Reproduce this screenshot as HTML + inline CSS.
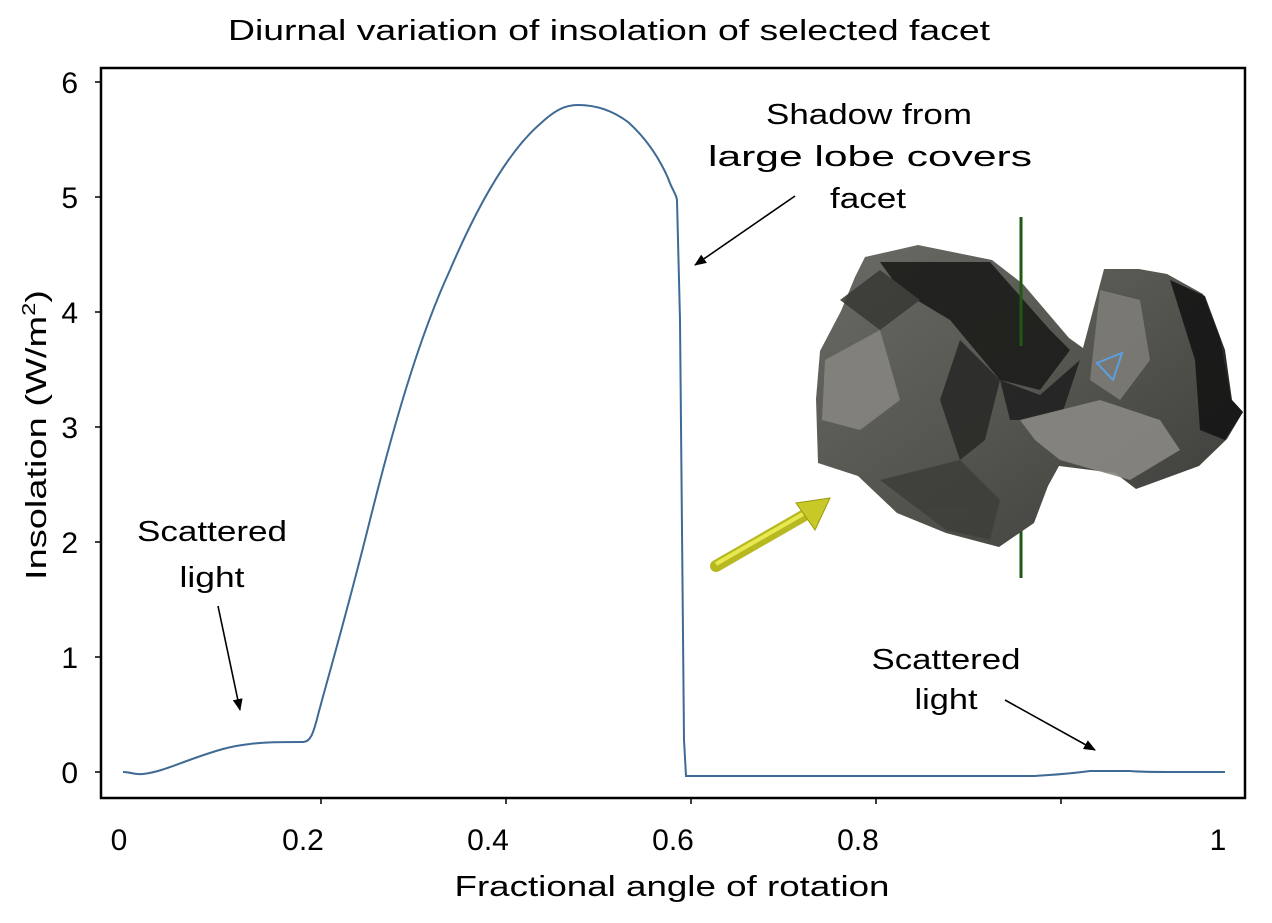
<!DOCTYPE html>
<html><head><meta charset="utf-8"><style>
html,body{margin:0;padding:0;background:#fff;}
svg{display:block;font-family:"Liberation Sans",sans-serif;}
</style></head><body>
<svg width="1272" height="923" viewBox="0 0 1272 923" xmlns="http://www.w3.org/2000/svg">
<defs>
<marker id="ah" markerWidth="12" markerHeight="12" refX="11" refY="6" orient="auto" markerUnits="userSpaceOnUse" viewBox="0 0 12 12"><path d="M0,1 L12,6 L0,11 z" fill="#000"/></marker>
<linearGradient id="cg" x1="0" y1="0" x2="1" y2="1">
<stop offset="0" stop-color="#6a6a66"/><stop offset="0.5" stop-color="#55554f"/><stop offset="1" stop-color="#3a3a38"/></linearGradient>
</defs>
<text x="609" y="40" font-size="29" text-anchor="middle" textLength="762" lengthAdjust="spacingAndGlyphs">Diurnal variation of insolation of selected facet</text>
<rect x="101" y="68" width="1144" height="730" fill="none" stroke="#000" stroke-width="2.5"/>
<g stroke="#000" stroke-width="1.5">
<line x1="95" y1="772" x2="101" y2="772"/><line x1="95" y1="657" x2="101" y2="657"/><line x1="95" y1="542" x2="101" y2="542"/><line x1="95" y1="427" x2="101" y2="427"/><line x1="95" y1="312" x2="101" y2="312"/><line x1="95" y1="197" x2="101" y2="197"/><line x1="95" y1="82" x2="101" y2="82"/>
<line x1="321" y1="798" x2="321" y2="804"/><line x1="506" y1="798" x2="506" y2="804"/><line x1="691" y1="798" x2="691" y2="804"/><line x1="876" y1="798" x2="876" y2="804"/><line x1="1061" y1="798" x2="1061" y2="804"/>
</g>
<g font-size="30" text-anchor="end">
<text x="78" y="783">0</text><text x="78" y="668">1</text><text x="78" y="553">2</text><text x="78" y="438">3</text><text x="78" y="323">4</text><text x="78" y="208">5</text><text x="78" y="93">6</text>
</g>
<g font-size="30" text-anchor="middle">
<text x="119" y="850">0</text><text x="303" y="850">0.2</text><text x="488" y="850">0.4</text><text x="673" y="850">0.6</text><text x="858" y="850">0.8</text><text x="1218" y="850">1</text>
</g>
<text x="672" y="896" font-size="29" text-anchor="middle" textLength="435" lengthAdjust="spacingAndGlyphs">Fractional angle of rotation</text>
<text transform="translate(46,435) rotate(-90)" font-size="29" text-anchor="middle" textLength="290" lengthAdjust="spacingAndGlyphs">Insolation (W/m<tspan font-size="18" dy="-11">2</tspan><tspan dy="11">)</tspan></text>
<path d="M123,772 C130,772 136,775 143,774 C160,772 175,765 195,758 C215,751 230,746 250,744 C265,742 280,742 303,742 C310,742 313,735 318,715 C330,670 345,620 370,520 C395,420 420,335 450,270 C480,200 510,150 540,124 C555,110 565,105 578,105 C595,105 612,110 628,122 C648,140 660,160 668,178 C672,190 676,193 677,200 L680,320 L684,740 L686,776 L1035,776 C1045,775 1060,775 1090,771 L1130,771 C1140,772 1150,772 1180,772 L1225,772" fill="none" stroke="#3f6a94" stroke-width="2"/>
<g font-size="29" text-anchor="middle">
<text x="869" y="124" textLength="206" lengthAdjust="spacingAndGlyphs">Shadow from</text><text x="870" y="166" textLength="324" lengthAdjust="spacingAndGlyphs">large lobe covers</text><text x="868" y="208" textLength="76" lengthAdjust="spacingAndGlyphs">facet</text>
<text x="212" y="541" textLength="150" lengthAdjust="spacingAndGlyphs">Scattered</text><text x="212" y="587" textLength="65" lengthAdjust="spacingAndGlyphs">light</text>
<text x="946" y="669" textLength="149" lengthAdjust="spacingAndGlyphs">Scattered</text><text x="946" y="709" textLength="63" lengthAdjust="spacingAndGlyphs">light</text>
</g>
<g stroke="#000" stroke-width="1.6" fill="none">
<line x1="795" y1="196" x2="695" y2="265" marker-end="url(#ah)"/>
<line x1="218" y1="606" x2="240" y2="710" marker-end="url(#ah)"/>
<line x1="1005" y1="700" x2="1095" y2="750" marker-end="url(#ah)"/>
</g>
<line x1="1021" y1="217" x2="1021" y2="578" stroke="#1e5a10" stroke-width="3"/>
<path d="M865,257 L918,245 L992,260 L1023,284 L1069,338 L1083,348 L1104,269 L1139,269 L1167,274 L1203,294 L1220,338 L1231,399 L1243,412 L1227,439 L1199,466 L1136,489 L1115,473 L1059,466 L1048,486 L1034,523 L999,547 L946,533 L897,513 L858,476 L818,463 L816,399 L820,351 L841,311 L855,277 Z" fill="url(#cg)"/>
<g opacity="0.9">
<path d="M880,262 L990,262 L1050,330 L1070,350 L1040,390 L1000,380 L950,320 L900,290 Z" fill="#1c1c1a"/>
<path d="M1000,380 L1040,395 L1080,360 L1060,420 L1010,420 Z" fill="#222"/>
<path d="M1170,280 L1205,296 L1225,350 L1232,400 L1243,412 L1225,440 L1200,430 L1195,360 Z" fill="#151515"/>
<path d="M1020,420 L1100,400 L1160,420 L1180,450 L1130,480 L1060,460 L1035,440 Z" fill="#8a8882"/>
<path d="M1100,290 L1140,300 L1150,360 L1120,400 L1090,380 Z" fill="#7e7c76"/>
<path d="M825,360 L880,330 L900,400 L860,430 L822,420 Z" fill="#86847e"/>
<path d="M960,340 L1000,380 L985,440 L960,460 L940,400 Z" fill="#2a2a28"/>
<path d="M880,480 L960,460 L1000,500 L990,540 L946,530 Z" fill="#3e3e3b"/>
<path d="M840,300 L880,270 L920,300 L880,330 Z" fill="#3a3a36"/>
</g>
<path d="M1097,363 L1122,353 L1113,380 Z" fill="none" stroke="#5aa0e0" stroke-width="2"/>
<line x1="1021" y1="217" x2="1021" y2="346" stroke="#1e5a10" stroke-width="3"/>
<line x1="716" y1="566" x2="803" y2="516" stroke="#b8b820" stroke-width="12" stroke-linecap="round"/>
<line x1="716" y1="564" x2="803" y2="514" stroke="#e8e850" stroke-width="4"/>
<path d="M796,503 L830,498 L815,530 Z" fill="#c8c828" stroke="#9a9a10" stroke-width="1"/>
</svg>
</body></html>
